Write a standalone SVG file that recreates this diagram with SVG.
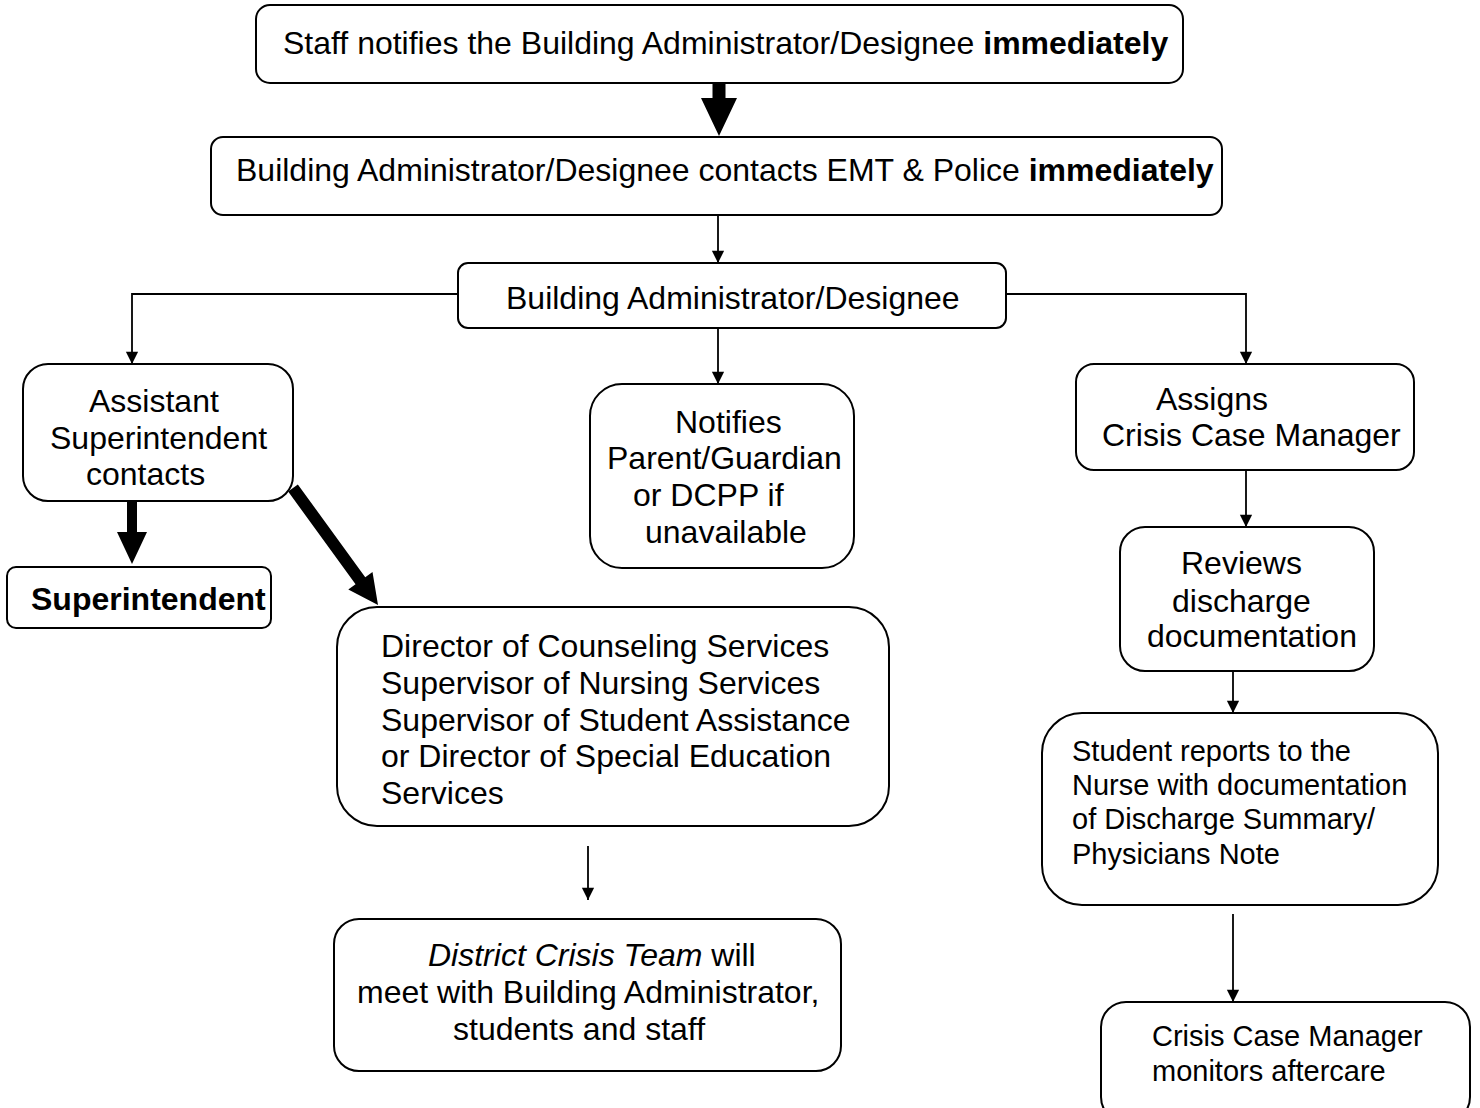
<svg xmlns="http://www.w3.org/2000/svg" width="1480" height="1108" viewBox="0 0 1480 1108">
<defs>
<style>
.box{fill:#fff;stroke:#000;stroke-width:2}
.t{font-family:"Liberation Sans",Arial,sans-serif;font-size:32px;fill:#000}
.s{font-size:29px}
.b{font-weight:bold}
.i{font-style:italic}
.ln{fill:none;stroke:#000;stroke-width:1.8}
.thick{fill:#000;stroke:none}
</style>
<marker id="ah" viewBox="0 0 14 16" refX="14" refY="7" markerWidth="14" markerHeight="14" markerUnits="userSpaceOnUse" orient="auto">
<path d="M0,0 L14,7 L0,14 Z" fill="#000"/>
</marker>
</defs>
<rect width="1480" height="1108" fill="#fff"/>
<g id="connectors">
<polygon class="thick" points="712.5,84 725.5,84 725.5,98 737,98 719,136 701,98 712.5,98"/>
<line class="ln" x1="718" y1="215" x2="718" y2="263" marker-end="url(#ah)"/>
<path class="ln" d="M458,294 H132 V364" marker-end="url(#ah)"/>
<path class="ln" d="M1006,294 H1246 V364" marker-end="url(#ah)"/>
<line class="ln" x1="718" y1="329" x2="718" y2="384" marker-end="url(#ah)"/>
<polygon class="thick" points="127,502 137,502 137,532 147,532 132,564 117,532 127,532"/>
<polygon class="thick" points="297.85,484.47 365.25,577.17 372.5,571.9 378,605 348.3,589.5 355.55,584.23 288.15,491.53"/>
<line class="ln" x1="588" y1="846" x2="588" y2="900" marker-end="url(#ah)"/>
<line class="ln" x1="1246" y1="471" x2="1246" y2="527" marker-end="url(#ah)"/>
<line class="ln" x1="1233" y1="672" x2="1233" y2="713" marker-end="url(#ah)"/>
<line class="ln" x1="1233" y1="914" x2="1233" y2="1002" marker-end="url(#ah)"/>
</g>
<g id="n1">
<rect class="box" x="256" y="5" width="927" height="78" rx="14"/>
<text class="t" x="283" y="54">Staff notifies the Building Administrator/Designee <tspan class="b">immediately</tspan></text>
</g>
<g id="n2">
<rect class="box" x="211" y="137" width="1011" height="78" rx="12"/>
<text class="t" x="236" y="181">Building Administrator/Designee contacts EMT &amp; Police <tspan class="b">immediately</tspan></text>
</g>
<g id="n3">
<rect class="box" x="458" y="263" width="548" height="65" rx="10"/>
<text class="t" x="506" y="309">Building Administrator/Designee</text>
</g>
<g id="n4">
<rect class="box" x="23" y="364" width="270" height="137" rx="25"/>
<text class="t" x="89" y="412">Assistant</text>
<text class="t" x="50" y="449">Superintendent</text>
<text class="t" x="86" y="485">contacts</text>
</g>
<g id="n5">
<rect class="box" x="7" y="567" width="264" height="61" rx="9"/>
<text class="t b" x="31" y="610">Superintendent</text>
</g>
<g id="n6">
<rect class="box" x="590" y="384" width="264" height="184" rx="32"/>
<text class="t" x="675" y="433">Notifies</text>
<text class="t" x="607" y="469">Parent/Guardian</text>
<text class="t" x="633" y="506">or DCPP if</text>
<text class="t" x="645" y="543">unavailable</text>
</g>
<g id="n7">
<rect class="box" x="1076" y="364" width="338" height="106" rx="18"/>
<text class="t" x="1156" y="410">Assigns</text>
<text class="t" x="1102" y="446">Crisis Case Manager</text>
</g>
<g id="n8">
<rect class="box" x="1120" y="527" width="254" height="144" rx="25"/>
<text class="t" x="1181" y="574">Reviews</text>
<text class="t" x="1172" y="612">discharge</text>
<text class="t" x="1147" y="647">documentation</text>
</g>
<g id="n9">
<rect class="box" x="337" y="607" width="552" height="219" rx="40"/>
<text class="t" x="381" y="657">Director of Counseling Services</text>
<text class="t" x="381" y="694">Supervisor of Nursing Services</text>
<text class="t" x="381" y="731">Supervisor of Student Assistance</text>
<text class="t" x="381" y="767">or Director of Special Education</text>
<text class="t" x="381" y="804">Services</text>
</g>
<g id="n10">
<rect class="box" x="334" y="919" width="507" height="152" rx="25"/>
<text class="t" x="428" y="966"><tspan class="i">District Crisis Team</tspan> will</text>
<text class="t" x="357" y="1003">meet with Building Administrator,</text>
<text class="t" x="453" y="1040">students and staff</text>
</g>
<g id="n11">
<rect class="box" x="1042" y="713" width="396" height="192" rx="40"/>
<text class="t s" x="1072" y="761">Student reports to the</text>
<text class="t s" x="1072" y="795">Nurse with documentation</text>
<text class="t s" x="1072" y="829">of Discharge Summary/</text>
<text class="t s" x="1072" y="864">Physicians Note</text>
</g>
<g id="n12">
<rect class="box" x="1101" y="1002" width="369" height="120" rx="25"/>
<text class="t s" x="1152" y="1046">Crisis Case Manager</text>
<text class="t s" x="1152" y="1081">monitors aftercare</text>
</g>
</svg>
